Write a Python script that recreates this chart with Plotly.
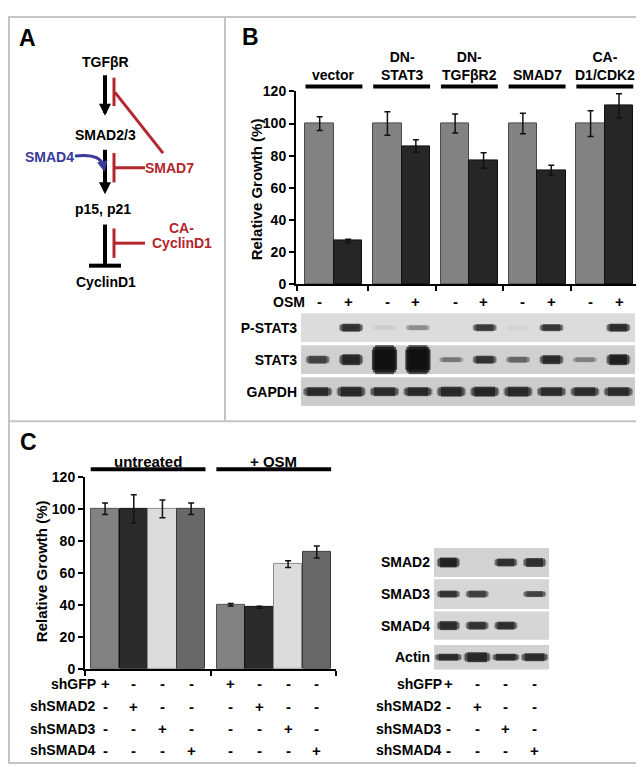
import plotly.graph_objects as go

W, H = 644, 767


def fx(p):
    return p / W


def fy(p):
    return 1 - p / H


FONT = "Liberation Sans, Arial, Helvetica, sans-serif"
RED = "#b3262d"
BLUE = "#3a3a9c"

# ---------------- data ----------------
# Panel B: relative growth
b_groups = ["vector", "DN-<br>STAT3", "DN-<br>TGFβR2", "SMAD7", "CA-<br>D1/CDK2"]
b_ctrl = [100, 100, 100, 100, 100]
b_ctrl_err = [4.3, 7.3, 5.9, 6.4, 8.0]
b_osm = [27, 86, 77, 71, 111]
b_osm_err = [1.0, 3.9, 4.8, 3.0, 7.5]
b_osm_signs = ["-", "+"]
y_ticks = [0, 20, 40, 60, 80, 100, 120]

# Panel B: western blot (relative band intensity per lane, band spread)
b_blot_rows = ["P-STAT3", "STAT3", "GAPDH"]
b_blot_int = [
    [0.0, 0.9, 0.07, 0.42, 0.0, 0.85, 0.04, 0.88, 0.0, 0.92],
    [0.8, 0.95, 1.0, 1.0, 0.5, 0.88, 0.6, 0.92, 0.45, 0.98],
    [0.92, 0.94, 0.92, 0.93, 0.93, 0.95, 0.93, 0.92, 0.92, 0.92],
]
b_blot_spread = [
    [5, 7, 4, 4, 5, 6, 4, 6, 5, 7],
    [7, 10, 29, 29, 4, 7, 5, 8, 4, 10],
    [8, 9, 8, 8, 9, 9, 9, 8, 8, 8],
]

# Panel C: relative growth
c_groups = ["untreated", "+ OSM"]
c_constructs = ["shGFP", "shSMAD2", "shSMAD3", "shSMAD4"]
c_ctrl = [100, 100, 100, 100]
c_ctrl_err = [3.6, 8.9, 5.5, 3.6]
c_osm = [40, 38.5, 65.5, 73]
c_osm_err = [0.8, 0.6, 2.1, 3.8]
c_design = [
    [1, 0, 0, 0],
    [0, 1, 0, 0],
    [0, 0, 1, 0],
    [0, 0, 0, 1],
]

# Panel C: western blot
c_blot_rows = ["SMAD2", "SMAD3", "SMAD4", "Actin"]
c_blot_int = [
    [0.98, 0.0, 0.9, 0.9],
    [0.88, 0.82, 0.0, 0.8],
    [0.92, 0.88, 0.9, 0.0],
    [0.92, 0.95, 0.92, 0.92],
]
c_blot_spread = [
    [9, 0, 7, 8],
    [6, 6, 0, 5],
    [8, 7, 7, 0],
    [6, 9, 6, 7],
]

# ---------------- styles ----------------
B_COLORS = ["#828282", "#262626"]
B_LINES = ["#4a4a4a", "#111111"]
C_COLORS = ["#828282", "#2a2a2a", "#dcdcdc", "#686868"]
C_LINES = ["#505050", "#111111", "#8a8a8a", "#3a3a3a"]
b_strip_bg = [(220, 220, 220), (208, 208, 208), (204, 204, 204)]
c_strip_bg = [(210, 210, 210), (214, 214, 214), (214, 214, 214), (210, 210, 210)]
b_band_len = [24, 24, 29]
c_band_len = [23, 23, 23, 27]
c_strip_h = [0.92, 0.94, 0.9, 0.78]
SYM = 1.4  # plotly's line-ew symbol length = 1.4 * size
# (intensity factor, length factor, thickness factor) for a tapered band look
BAND_LAYERS = [(0.55, 1.0, 0.55), (0.8, 0.9, 0.85), (1.0, 0.72, 1.0)]
BLOB_LAYERS = [(0.9, 0.78, 1.0), (1.0, 0.95, 0.88), (1.0, 1.05, 0.7)]


def blend(bg, inten):
    dark = (10, 10, 10)
    c = [round(bg[k] + (dark[k] - bg[k]) * inten) for k in range(3)]
    return f"rgb({c[0]},{c[1]},{c[2]})"


fig = go.Figure()
shapes = []
ann = []


def txt(x, y, s, size=14, color="black", xanchor="center", yanchor="middle", xref="paper", angle=0):
    ann.append(dict(x=x if xref != "paper" else fx(x), y=fy(y), xref=xref, yref="paper",
                    text=f"<b>{s}</b>", showarrow=False, xanchor=xanchor, yanchor=yanchor,
                    textangle=angle, font=dict(family=FONT, size=size, color=color)))


def seg(x0, y0, x1, y1, color="black", width=2, xref="paper"):
    shapes.append(dict(type="line", xref=xref, yref="paper",
                       x0=x0 if xref != "paper" else fx(x0), x1=x1 if xref != "paper" else fx(x1),
                       y0=fy(y0), y1=fy(y1), line=dict(color=color, width=width)))


def arrow(xh, yh, xt, yt, color, width, size):
    ann.append(dict(x=fx(xh), y=fy(yh), xref="paper", yref="paper", ax=xt - xh, ay=yt - yh,
                    axref="pixel", ayref="pixel", showarrow=True, arrowhead=2, arrowsize=size,
                    arrowwidth=width, arrowcolor=color, text="", standoff=0, startstandoff=0))


def blot(axx, axy, intens, spreads, bgs, lens):
    for r in range(len(intens)):
        n = len(intens[r])
        lanes = list(range(1, n + 1))
        for layer in range(3):
            cols, widths, sizes = [], [], []
            for s, v in zip(spreads[r], intens[r]):
                big = s > 20
                fac, lf, tf = (BLOB_LAYERS if big else BAND_LAYERS)[layer]
                cols.append(blend(bgs[r], v * fac))
                widths.append(0 if v <= 0 else min(29, s * tf + (0 if big else 1)))
                sizes.append(lens[r] * lf / SYM)
            fig.add_trace(go.Scatter(
                x=lanes, y=[r] * n, mode="markers", xaxis=axx, yaxis=axy, showlegend=False,
                hoverinfo="skip",
                marker=dict(symbol="line-ew", size=sizes, color=cols,
                            line=dict(color=cols, width=widths))))


# ---------------- Panel B bars ----------------
b_pos = list(range(len(b_groups)))
OFF, BW = 0.21, 0.42
for j, (vals, errs) in enumerate([(b_ctrl, b_ctrl_err), (b_osm, b_osm_err)]):
    fig.add_trace(go.Bar(
        x=[i + (2 * j - 1) * OFF for i in b_pos], y=vals, width=BW,
        marker=dict(color=B_COLORS[j], line=dict(color=B_LINES[j], width=1)),
        error_y=dict(type="data", array=errs, color="#111111", thickness=1.5, width=3),
        xaxis="x", yaxis="y", showlegend=False, hoverinfo="skip"))

for i, g in enumerate(b_groups):
    txt(i, 70.5, g, xref="x", yanchor="bottom")
    seg(i - BW, 72, i + BW, 72, width=4, xref="x")
    for j, s in enumerate(b_osm_signs):
        txt(i + (2 * j - 1) * OFF, 292, s, size=15, xref="x")
txt(299, 292, "OSM", xanchor="right")
txt(248, 177, "Relative Growth (%)", size=15, angle=-90)

# ---------------- Panel B blot ----------------
for r in range(len(b_blot_rows)):
    n = len(b_blot_int[r])
    shapes.append(dict(type="rect", xref="x3", yref="y3", x0=0.5, x1=n + 0.5, y0=r - 0.45, y1=r + 0.45,
                       fillcolor="rgb(%d,%d,%d)" % b_strip_bg[r], line=dict(width=0), layer="below"))
blot("x3", "y3", b_blot_int, b_blot_spread, b_strip_bg, b_band_len)

# ---------------- Panel C bars ----------------
c_pos_ctrl = [0, 1, 2, 3]
c_pos_osm = [4.38, 5.38, 6.38, 7.38]
for vals, errs, pos in [(c_ctrl, c_ctrl_err, c_pos_ctrl), (c_osm, c_osm_err, c_pos_osm)]:
    fig.add_trace(go.Bar(
        x=pos, y=vals, width=0.99,
        marker=dict(color=C_COLORS, line=dict(color=C_LINES, width=1)),
        error_y=dict(type="data", array=errs, color="#111111", thickness=1.5, width=3),
        xaxis="x2", yaxis="y2", showlegend=False, hoverinfo="skip"))

for g, pos in zip(c_groups, [c_pos_ctrl, c_pos_osm]):
    mid = (pos[0] + pos[-1]) / 2
    txt(mid, 455, g, size=15, xref="x2")
    seg(pos[0] - 0.5, 463, pos[-1] + 0.5, 463, width=4, xref="x2")

row_y = [682, 705, 728, 750]
all_pos = c_pos_ctrl + c_pos_osm
for r, name in enumerate(c_constructs):
    txt(90, row_y[r], name, xanchor="right")
    for k, p in enumerate(all_pos):
        txt(p, row_y[r], "+" if c_design[r][k % 4] else "-", size=15, xref="x2")
    txt(436, row_y[r], name, xanchor="right")
    for k in range(4):
        txt(k + 1, row_y[r], "+" if c_design[r][k] else "-", size=15, xref="x4")
txt(33, 567, "Relative Growth (%)", size=15, angle=-90)

# ---------------- Panel C blot ----------------
for r in range(len(c_blot_rows)):
    n = len(c_blot_int[r])
    h = c_strip_h[r] / 2
    shapes.append(dict(type="rect", xref="x4", yref="y4", x0=0.5, x1=n + 0.5, y0=r - h, y1=r + h,
                       fillcolor="rgb(%d,%d,%d)" % c_strip_bg[r], line=dict(width=0), layer="below"))
blot("x4", "y4", c_blot_int, c_blot_spread, c_strip_bg, c_band_len)

# ---------------- Panel A diagram ----------------
txt(97, 47, "TGFβR")
txt(97.5, 122, "SMAD2/3")
txt(95.5, 197, "p15, p21")
txt(98, 272, "CyclinD1")
txt(41, 144, "SMAD4", color=BLUE)
txt(161.5, 155, "SMAD7", color=RED)
txt(173, 217, "CA-", color=RED)
txt(173.5, 232, "CyclinD1", color=RED)
arrow(97, 102, 97, 60, "black", 4, 0.6)
arrow(97, 182, 97, 136, "black", 4, 0.6)
seg(97, 213, 97, 255, width=4)
seg(81, 255, 113, 255, width=4)
seg(106, 63, 106, 92, RED, 3)
seg(107, 78, 155, 140, RED, 3)
seg(106, 140, 106, 170, RED, 3)
seg(106, 155, 137, 155, RED, 3)
seg(106, 217, 106, 247, RED, 3)
seg(106, 232, 137, 232, RED, 3)
shapes.append(dict(type="path", xref="paper", yref="paper",
                   path=f"M {fx(67)},{fy(143)} Q {fx(91)},{fy(140)} {fx(95)},{fy(152)}",
                   line=dict(color=BLUE, width=3)))
arrow(96.5, 159, 95, 152, BLUE, 3, 0.7)

# panel letters
txt(19, 22, "A", size=23)
txt(242.5, 21, "B", size=23)
txt(20, 435, "C", size=23)

# panel borders
BORDER = "#c4c4c4"
shapes.append(dict(type="rect", xref="paper", yref="paper", x0=fx(1), x1=fx(641.5), y0=fy(763), y1=fy(1),
                   line=dict(color=BORDER, width=2)))
seg(217, 1, 217, 414, BORDER, 2)
seg(1, 414, 641.5, 414, BORDER, 2)

# ---------------- axes ----------------
tickfont = dict(family=FONT, size=14, color="black", weight="bold")
common_y = dict(range=[0, 120], tickvals=y_ticks, showline=True, linecolor="black", linewidth=2,
                ticks="outside", ticklen=5, tickwidth=2, tickcolor="black", tickfont=tickfont,
                showgrid=False, zeroline=False)
common_x = dict(showline=True, linecolor="black", linewidth=2, ticks="outside", ticklen=5, tickwidth=2,
                tickcolor="black", showticklabels=False, showgrid=False, zeroline=False)
blot_y = dict(ticks="", showline=False, showgrid=False, zeroline=False, tickfont=tickfont,
              ticklabelstandoff=3)

fig.update_layout(
    width=W, height=H, margin=dict(l=0, r=0, t=0, b=0),
    paper_bgcolor="white", plot_bgcolor="rgba(0,0,0,0)",
    bargap=0, showlegend=False,
    xaxis=dict(domain=[fx(288), fx(631)], range=[-0.56, 4.505], anchor="y",
               tickvals=[-0.55, 0.5, 1.5, 2.5, 3.5, 4.5], **common_x),
    yaxis=dict(domain=[fy(274), fy(77)], anchor="x", **common_y),
    xaxis2=dict(domain=[fx(77), fx(328)], range=[-0.70, 8.05], anchor="y2",
                tickvals=[-0.69, 3.69, 8.04], **common_x),
    yaxis2=dict(domain=[fy(666.7), fy(470.7)], anchor="x2", **common_y),
    xaxis3=dict(domain=[fx(293), fx(627)], range=[0.5, 10.5], anchor="y3", visible=False),
    yaxis3=dict(domain=[fy(400), fy(302)], range=[2.5, -0.5], anchor="x3", tickvals=[0, 1, 2],
                ticktext=b_blot_rows, **blot_y),
    xaxis4=dict(domain=[fx(426), fx(541)], range=[0.5, 4.5], anchor="y4", visible=False),
    yaxis4=dict(domain=[fy(671), fy(542)], range=[3.5, -0.5], anchor="x4", tickvals=[0, 1, 2, 3],
                ticktext=c_blot_rows, **blot_y),
    shapes=shapes, annotations=ann,
)

fig.write_html("out.html")
